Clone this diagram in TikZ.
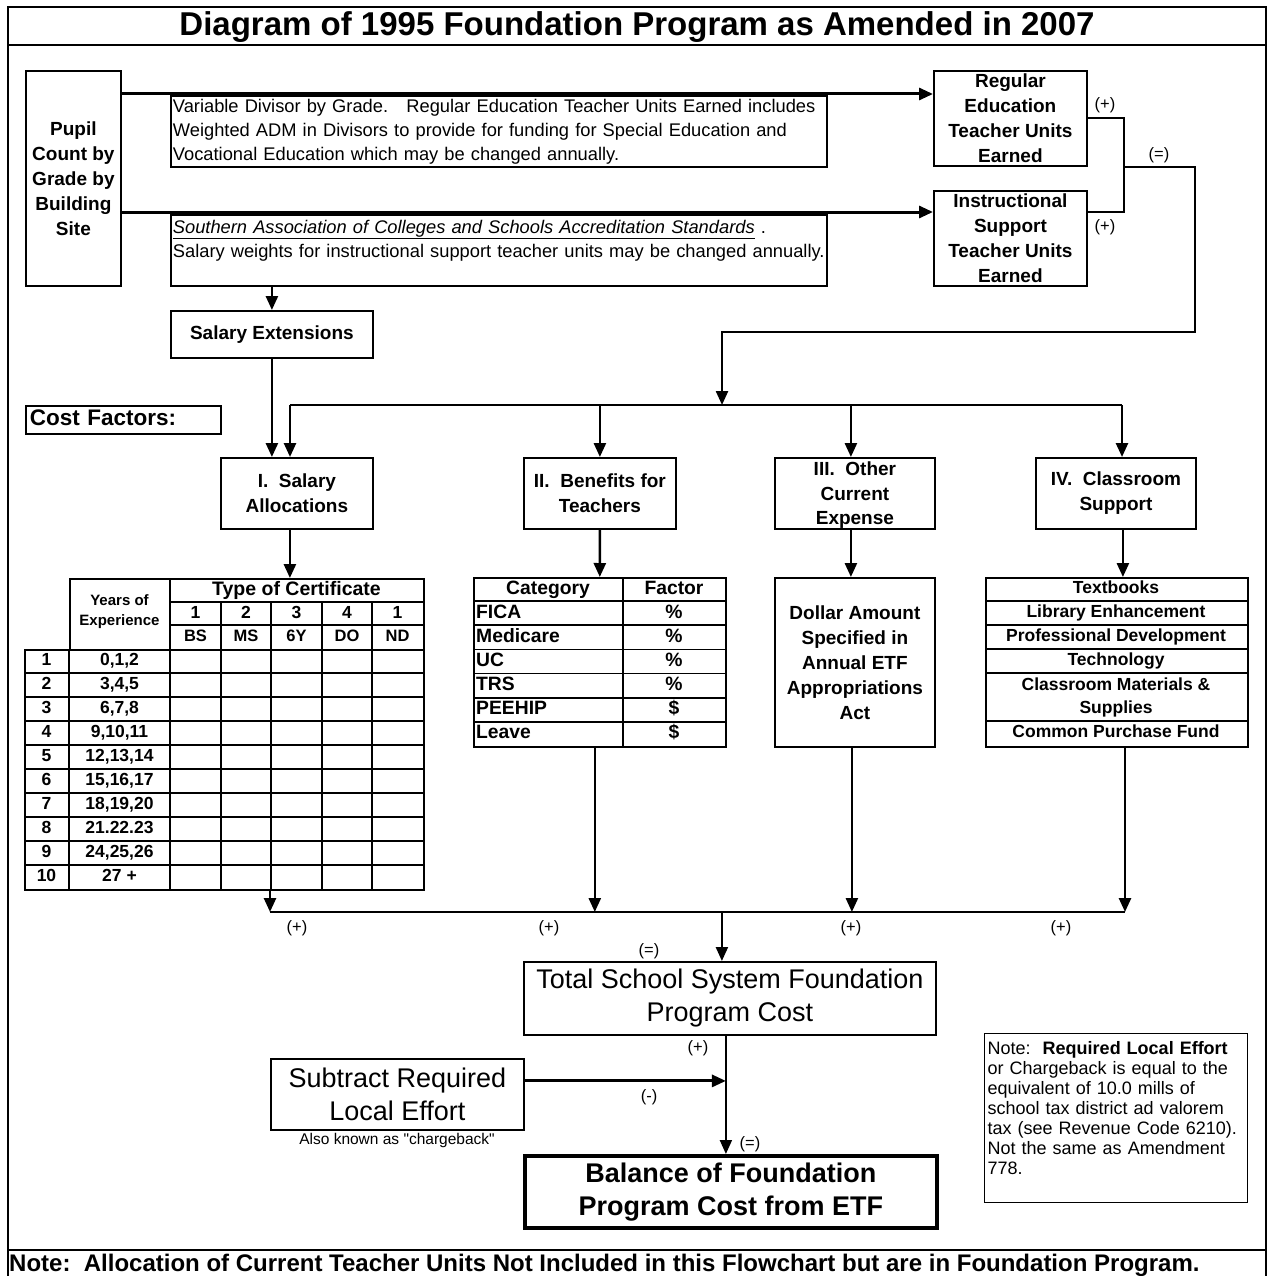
\documentclass[tikz,border=0pt]{standalone}
\usepackage{fontspec}
\setmainfont{Liberation Sans}
\usetikzlibrary{arrows.meta,positioning,calc}

\tikzset{
  box/.style={draw, line width=1.8pt, inner sep=1.5pt, align=center, anchor=north west,
    font=\bfseries\fontsize{19}{25}\selectfont},
  txtbox/.style={box, align=left, inner xsep=2pt, text width=652pt, font=\fontsize{18.3}{24}\selectfont},
  bigbox/.style={box, font=\fontsize{27}{33}\selectfont},
  flow/.style={line width=2.6pt, -{Triangle[length=14pt,width=12pt]}},
  link/.style={line width=2.2pt},
  tabline/.style={line width=1.6pt},
  sign/.style={font=\fontsize{16.5}{18}\selectfont, inner sep=0pt},
  head/.style={font=\bfseries\fontsize{19.3}{20}\selectfont, inner sep=0pt, text height=14pt, text depth=4pt},
  cell/.style={font=\bfseries\fontsize{17.5}{20}\selectfont, inner sep=0pt, text height=13pt, text depth=4pt},
  item/.style={font=\bfseries\fontsize{17.5}{23}\selectfont, inner sep=0pt, text height=13pt, text depth=4pt}
}

\begin{document}
\begin{tikzpicture}[x=1pt,y=-1pt]
  \useasboundingbox (0,0) rectangle (1269,1276);
  % frame, title and footnote
  \draw[line width=1.8pt] (8,7) rectangle (1266,1300);
  \draw[line width=1.8pt] (8,45) -- (1266,45) (8,1250) -- (1266,1250);
  \node (title) at (637,27) {\bfseries\fontsize{33}{36}\selectfont Diagram of 1995 Foundation Program as Amended in 2007};
  \node[anchor=west, inner sep=0pt, font=\bfseries\fontsize{24}{26}\selectfont] (footnote) at (9,1265)
    {Note:\ \ Allocation of Current Teacher Units Not Included in this Flowchart but are in Foundation Program.};

  % teacher units
  \node[box, minimum width=95, minimum height=215] (pupil) at (25,70) {Pupil\\Count by\\Grade by\\Building\\Site};
  \node[box, minimum width=153, minimum height=95] (reg) at (933,70) {Regular\\Education\\Teacher Units\\Earned};
  \node[box, minimum width=153, minimum height=95] (inst) at (933,190) {Instructional\\Support\\Teacher Units\\Earned};
  \node[txtbox, minimum height=71] (divisor) at (170,95)
    {\mbox{Variable Divisor by Grade.\ \ \ Regular Education Teacher Units Earned includes}\\
     \mbox{Weighted ADM in Divisors to provide for funding for Special Education and}\\
     \mbox{Vocational Education which may be changed annually.}};
  \node[txtbox, minimum height=71] (sacs) at (170,214)
    {\mbox{\underline{\itshape Southern Association of Colleges and Schools Accreditation Standards}\ .}\\
     \mbox{Salary weights for instructional support teacher units may be changed annually.}\\~};
  \node[box, minimum width=202, minimum height=47] (salext) at (170,310) {Salary Extensions};
  \node[box, align=left, text width=187, inner xsep=4pt, inner ysep=4pt, text height=16pt, text depth=4pt,
        font=\bfseries\fontsize{22.5}{24}\selectfont] (costf) at (25,405) {Cost Factors:};

  \coordinate (r1) at ([yshift=-24pt]reg.north west);
  \coordinate (i1) at ([yshift=-22pt]inst.north west);
  \draw[flow, line width=3pt] (pupil.east |- r1) -- (r1);
  \draw[flow, line width=3pt] (pupil.east |- i1) -- (i1);
  \draw[link] (reg.east) -- ++(36,0) coordinate (rj) |- ([yshift=-22pt]inst.north east);
  \node[sign] (plus1) at (1105,105) {(+)};
  \node[sign] (plus2) at (1105,227) {(+)};
  \node[sign] (eq1) at (1159,155) {(=)};

  % cost factors
  \node[box, minimum width=152, minimum height=71] (salary) at (220,457) {I.\ \ Salary\\Allocations};
  \node[box, minimum width=152, minimum height=71] (benefit) at (523,457) {II.\ \ Benefits for\\Teachers};
  \node[box, minimum width=160, minimum height=71, inner ysep=0pt, text depth=0pt, font=\bfseries\fontsize{19}{24.5}\selectfont] (other) at (774,457) {III.\ \ Other\\Current\\Expense};
  \node[box, minimum width=160, minimum height=71] (classrm) at (1035,457) {IV.\ \ Classroom\\Support};

  \coordinate (split) at (722,405);
  \coordinate (tb-l) at (290,405);
  \coordinate (tb-r) at (1122,405);
  \draw[flow, line width=2.4pt] (rj |- reg.south) -| (1195,332) -| (split);
  \draw[link, line width=2.6pt] (tb-l) -- (tb-r);
  \draw[flow] (tb-l) -- (tb-l |- salary.north);
  \draw[flow] (benefit.north |- tb-l) -- (benefit.north);
  \draw[flow] ([xshift=-4pt]other.north |- tb-l) -- ([xshift=-4pt]other.north);
  \draw[flow] (tb-r) -- (tb-r |- classrm.north);
  \draw[flow] (salext.north |- sacs.south) -- (salext.north);
  \draw[flow] (salext.south) -- (salext.south |- salary.north);

  % salary schedule
  \node[draw, tabline, anchor=north west, minimum width=354, minimum height=71, inner sep=0pt] (saltab) at (69,578) {};
  \node[draw, tabline, anchor=north west, minimum width=399, minimum height=240, inner sep=0pt] (salrows) at (24,649) {};
  \draw[tabline] (170,578) -- (170,889) (69,649) -- (69,889);
  \foreach \x in {221,271,322,372} \draw[tabline] (\x,602) -- (\x,889);
  \draw[tabline] (170,602) -- (423,602) (170,625) -- (423,625);
  \foreach \k in {1,...,9} \draw[tabline] (24,649+24*\k) -- (423,649+24*\k);
  \node[head, font=\bfseries\fontsize{19.5}{20}\selectfont] (toc) at (296.5,590) {Type of Certificate};
  \node[font=\bfseries\fontsize{15}{20}\selectfont, align=center, inner sep=0pt] (yoe) at (119.5,612) {Years of\\Experience};
  \foreach \n/\c [count=\i] in {1/BS,2/MS,3/6Y,4/DO,1/ND} {
    \node[cell] (cn\i) at (145+50.5*\i,613.5) {\n};
    \node[cell, font=\bfseries\fontsize{16.5}{20}\selectfont] (cc\i) at (145+50.5*\i,637) {\c};
  }
  \foreach \yrs [count=\i] in {{0,1,2},{3,4,5},{6,7,8},{9,10,11},{12,13,14},{15,16,17},{18,19,20},{21.22.23},{24,25,26},{27 +}} {
    \node[cell] (rn\i) at (46.5,637+24*\i) {\i};
    \node[cell] (ry\i) at (119.5,637+24*\i) {\yrs};
  }
  \draw[flow] ([xshift=-7pt]salary.south) -- ([xshift=-7pt]salary.south |- saltab.north);

  % benefits
  \node[draw, tabline, anchor=north west, minimum width=252, minimum height=169, inner sep=0pt] (bentab) at (473,577) {};
  \draw[tabline] (623,577) -- (623,746);
  \foreach \k in {1,...,6} \draw[tabline] (473,577+24.14*\k) -- (725,577+24.14*\k);
  \node[head] (bcat) at (548,589) {Category};
  \node[head] (bfac) at (674,589) {Factor};
  \foreach \c/\f [count=\i] in {FICA/\%,Medicare/\%,UC/\%,TRS/\%,PEEHIP/\$,Leave/\$} {
    \node[head, anchor=west] (bc\i) at (476,589+24.14*\i) {\c};
    \node[head] (bf\i) at (674,589+24.14*\i) {\f};
  }
  \draw[flow] (benefit.south) -- (bentab.north);

  % other current expense
  \node[box, minimum width=160, minimum height=169] (dollar) at (774,577) {Dollar Amount\\Specified in\\Annual ETF\\Appropriations\\Act};
  \draw[flow] ([xshift=-4pt]other.south) -- ([xshift=-4pt]other.south |- dollar.north);

  % classroom support
  \node[draw, tabline, anchor=north west, minimum width=262, minimum height=169, inner sep=0pt] (clist) at (985,577) {};
  \foreach \yy in {601,625,649,673,721} \draw[tabline] (985,\yy) -- (1247,\yy);
  \foreach \t/\yy [count=\i] in {Textbooks/589,Library Enhancement/613,Professional Development/637,Technology/661,Common Purchase Fund/733}
    \node[item] (cs\i) at (1116,\yy) {\t};
  \node[font=\bfseries\fontsize{17.5}{23}\selectfont, align=center, inner sep=0pt] (cs6) at (1116,697) {Classroom Materials \&\\Supplies};
  \draw[flow] ([xshift=7pt]classrm.south) -- ([xshift=7pt]classrm.south |- clist.north);

  % totals
  \node[bigbox, minimum width=412, minimum height=73] (total) at (523,961) {Total School System Foundation\\Program Cost};
  \node[bigbox, minimum width=253, minimum height=71] (subtract) at (270,1058) {Subtract Required\\Local Effort};
  \node[bigbox, line width=3.6pt, minimum width=412, minimum height=72, font=\bfseries\fontsize{27}{33}\selectfont] (balance) at (523,1154) {Balance of Foundation\\Program Cost from ETF};
  \node[font=\fontsize{15.5}{16}\selectfont, inner sep=0pt] (aka) at (397,1140) {Also known as \textquotedbl chargeback\textquotedbl};
  \node[box, align=left, line width=1.4pt, text width=257, inner xsep=3pt, minimum width=263, minimum height=169,
        font=\fontsize{18}{20}\selectfont] (note) at (984,1033)
    {\mbox{Note:\ \ \textbf{Required Local Effort}}\\\mbox{or Chargeback is equal to the}\\\mbox{equivalent of 10.0 mills of}\\
     \mbox{school tax district ad valorem}\\\mbox{tax (see Revenue Code 6210).}\\\mbox{Not the same as Amendment}\\778.\\~};

  \coordinate (sb-l) at (270,912);
  \coordinate (sb-r) at (1125,912);
  \draw[link, line width=2.6pt] (sb-l) -- (sb-r);
  \draw[flow] (sb-l |- salrows.south) -- (sb-l);
  \draw[flow] ([xshift=-5pt]bentab.south) -- ([xshift=-5pt]bentab.south |- sb-l);
  \draw[flow] ([xshift=-3pt]dollar.south) -- ([xshift=-3pt]dollar.south |- sb-l);
  \draw[flow] (sb-r |- clist.south) -- (sb-r);
  \draw[flow, line width=2.2pt] ([xshift=-8pt]total.north |- sb-l) -- ([xshift=-8pt]total.north);
  \coordinate (drop) at ([xshift=-4pt]total.south);
  \draw[flow, line width=2pt] (drop) -- (drop |- balance.north);
  \draw[flow, line width=3pt] ([yshift=13.5pt]subtract.east) -- ([yshift=13.5pt]subtract.east -| drop);

  \node[sign] (plus3) at (297,928) {(+)};
  \node[sign] (plus4) at (549,928) {(+)};
  \node[sign] (plus5) at (851,928) {(+)};
  \node[sign] (plus6) at (1061,928) {(+)};
  \node[sign] (eq2) at (649,951) {(=)};
  \node[sign] (plus7) at (698,1048) {(+)};
  \node[sign] (minus1) at (649,1097) {(-)};
  \node[sign] (eq3) at (750,1144) {(=)};
\end{tikzpicture}
\end{document}
